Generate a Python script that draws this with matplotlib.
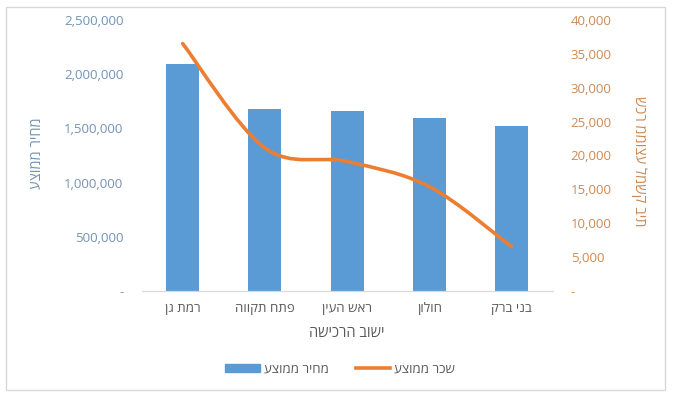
import matplotlib
matplotlib.use("Agg")
import matplotlib.pyplot as plt
from matplotlib.path import Path
from matplotlib.patches import PathPatch, Rectangle
from matplotlib.lines import Line2D
from matplotlib.ticker import FuncFormatter
import numpy as np

plt.rcParams["font.family"] = ["Open Sans", "DejaVu Sans"]

# data
cities = ["רמת גן", "פתח תקווה", "ראש העין", "חולון", "בני ברק"]
avg_price = [2090000, 1682000, 1663000, 1599000, 1525000]
avg_salary = [36500, 21100, 19100, 15400, 6550]

price_label = "מחיר ממוצע"
salary_label = "שכר ממוצע"
salary_axis_label = "שכר ממוצע למשק בית"
x_title = "ישוב הרכישה"

BLUE = "#5b9bd5"
ORANGE = "#ed7d31"
LEFT_TXT = "#7393b3"
RIGHT_TXT = "#cc8a55"
GREY_TXT = "#595959"


def rtl(s):
    # matplotlib has no bidi support, so draw Hebrew in visual order
    return s[::-1]


def smooth_path(xs, ys, t=1 / 6):
    # Excel-like smoothed line drawn as cubic bezier segments through the points
    pts = np.column_stack([xs, ys]).astype(float)
    n = len(pts)
    verts = [pts[0]]
    codes = [Path.MOVETO]
    for i in range(n - 1):
        p0 = pts[i - 1] if i > 0 else pts[i]
        p1 = pts[i]
        p2 = pts[i + 1]
        p3 = pts[i + 2] if i + 2 < n else pts[i + 1]
        c1 = p1 + (p2 - p0) * t
        c2 = p2 - (p3 - p1) * t
        verts += [c1, c2, p2]
        codes += [Path.CURVE4] * 3
    return Path(verts, codes)


fig = plt.figure(figsize=(6.74, 3.97), dpi=100)
ax = fig.add_axes([0.21, 0.267, 0.61, 0.683])
ax2 = ax.twinx()

x = np.arange(len(cities))
ax.bar(x, avg_price, width=0.4, color=BLUE, zorder=2)
ax.set_xlim(-0.5, len(cities) - 0.5)
ax.set_ylim(0, 2500000)
ax.set_yticks(np.arange(0, 2500001, 500000))
ax.yaxis.set_major_formatter(FuncFormatter(lambda v, p: "-" if v == 0 else f"{int(v):,}"))
ax.set_xticks(x)
ax.set_xticklabels([rtl(c) for c in cities], fontsize=9.5, color=GREY_TXT)

ax2.set_ylim(0, 40000)
ax2.set_yticks(np.arange(0, 40001, 5000))
ax2.yaxis.set_major_formatter(FuncFormatter(lambda v, p: "-" if v == 0 else f"{int(v):,}"))
curve = smooth_path(x, avg_salary)
ax2.add_patch(PathPatch(curve, facecolor="none", edgecolor=ORANGE, lw=2.6,
                        capstyle="round", zorder=3))

for a in (ax, ax2):
    for side in ("top", "left", "right"):
        a.spines[side].set_visible(False)
    a.spines["bottom"].set_color("#d9d9d9")
    a.tick_params(length=0)
ax.tick_params(axis="y", labelsize=9.5, labelcolor=LEFT_TXT, pad=13)
ax.tick_params(axis="x", pad=8)
ax2.tick_params(axis="y", labelsize=9.5, labelcolor=RIGHT_TXT, pad=13)

ax.set_ylabel(rtl(price_label), fontsize=10.5, color=LEFT_TXT)
ax2.set_ylabel(salary_axis_label, fontsize=10.5, color=RIGHT_TXT, rotation=270,
               va="center")
ax.yaxis.set_label_coords(-0.235, 0.51)
ax2.yaxis.set_label_coords(1.21, 0.48)
ax.set_xlabel(rtl(x_title), fontsize=10.5, color=GREY_TXT, labelpad=8)

handles = [Rectangle((0, 0), 1, 1, color=BLUE),
           Line2D([], [], color=ORANGE, lw=2.6)]
fig.legend(handles, [rtl(price_label), rtl(salary_label)], loc="center",
           bbox_to_anchor=(0.505, 0.07), ncol=2, frameon=False, fontsize=9.5,
           labelcolor=GREY_TXT, handlelength=2.6, handleheight=0.55,
           columnspacing=2.0, handletextpad=0.35)

fig.patches.append(Rectangle((6 / 674, 7 / 397), 659 / 674, 383 / 397,
                             transform=fig.transFigure, fill=False,
                             edgecolor="#d9d9d9", lw=1))

fig.savefig("out.png", dpi=100)
